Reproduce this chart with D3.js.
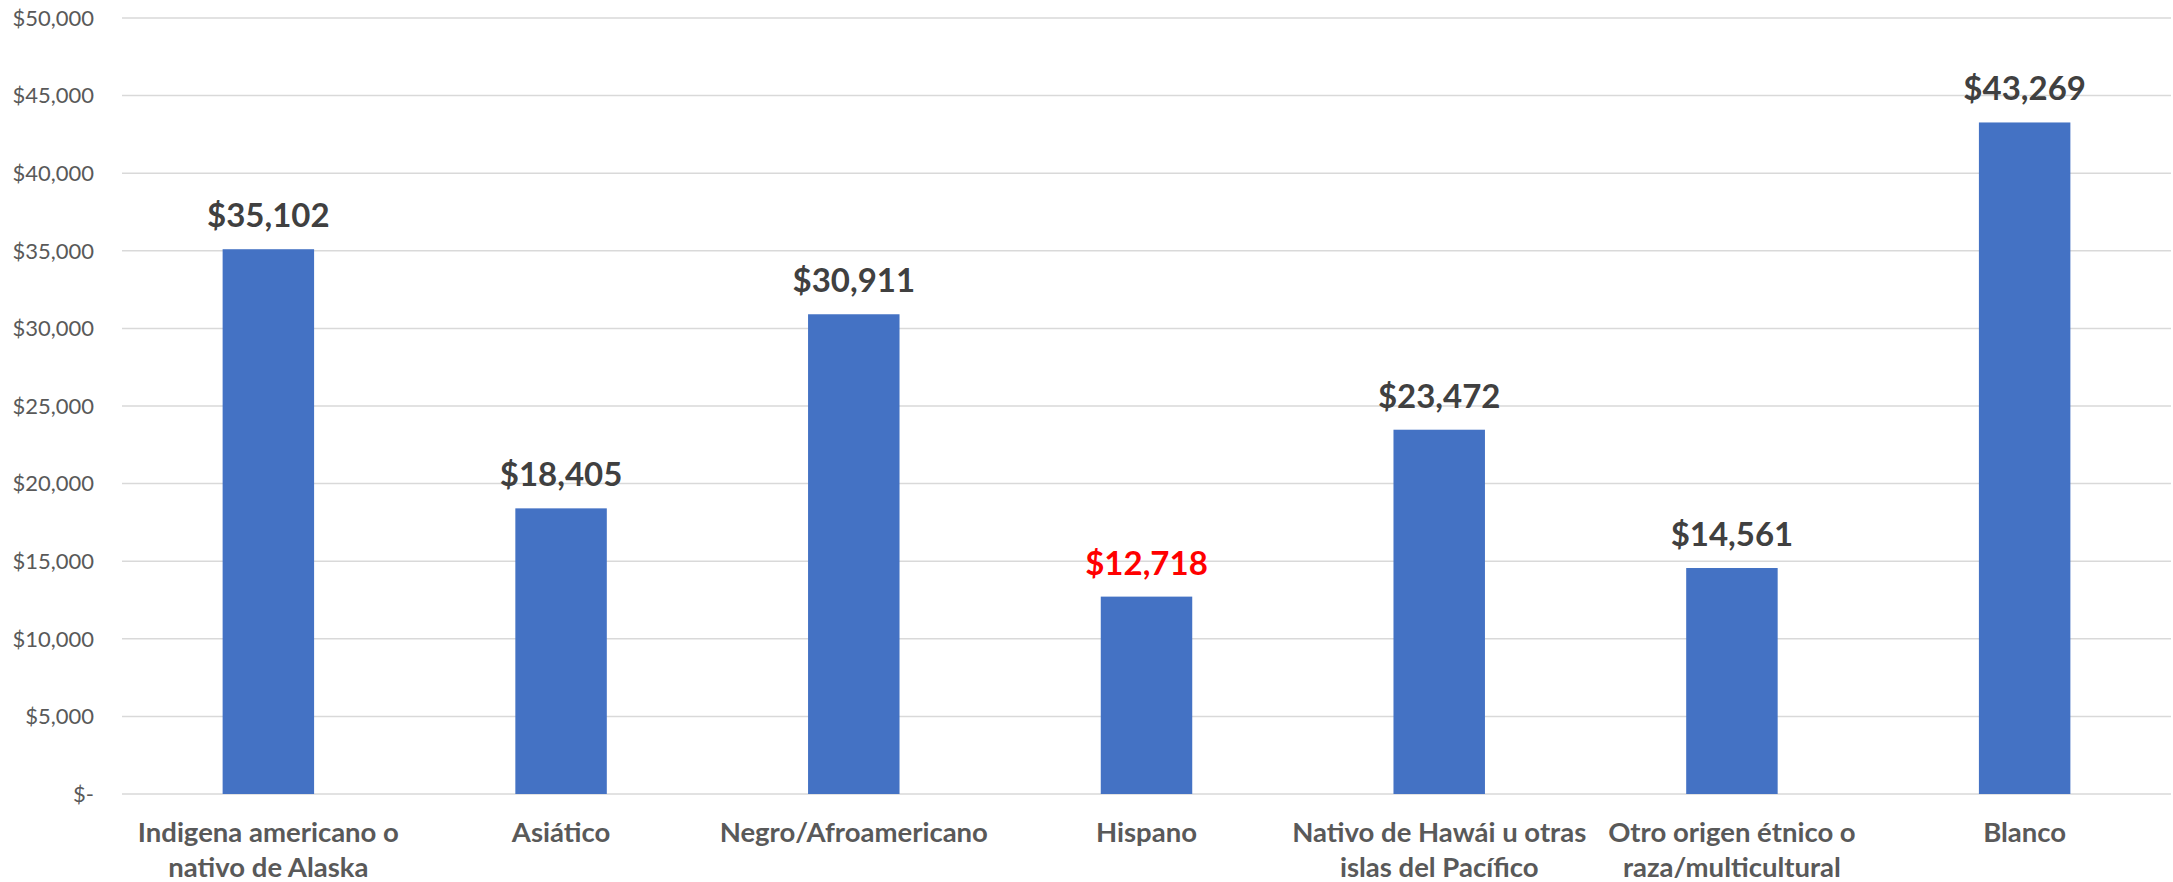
<!DOCTYPE html>
<html>
<head>
<meta charset="utf-8">
<script src="https://cdn.jsdelivr.net/npm/d3@7"></script>
<style>
  body { margin: 0; background: #fff; }
  svg text { font-family: Lato, "Open Sans", sans-serif; }
</style>
</head>
<body>
<div id="chart"></div>
<script>
// categories (two-line labels) and values
const categories = [
    ["Indigena americano o", "nativo de Alaska"],
    ["Asiático"],
    ["Negro/Afroamericano"],
    ["Hispano"],
    ["Nativo de Hawái u otras", "islas del Pacífico"],
    ["Otro origen étnico o", "raza/multicultural"],
    ["Blanco"]
];
const values = [35102, 18405, 30911, 12718, 23472, 14561, 43269];
const highlight = [false, false, false, true, false, false, false];
const yTicks = [0, 5000, 10000, 15000, 20000, 25000, 30000, 35000, 40000, 45000, 50000];

const W = 2173, H = 882;
const m = {t: 18, r: 2, b: 88, l: 122};
const w = W - m.l - m.r, h = H - m.t - m.b;

const svg = d3.select("#chart").append("svg")
    .attr("width", W).attr("height", H);
const g = svg.append("g").attr("transform", `translate(${m.l},${m.t})`);

const keys = categories.map((d, i) => i);
const x = d3.scaleBand().domain(keys).range([0, w])
    .paddingInner(0.6875).paddingOuter(0.34375);
const y = d3.scaleLinear().domain([0, 50000]).range([h, 0]);

// gridlines
g.selectAll(".grid").data(yTicks).enter().append("line")
    .attr("x1", 0).attr("x2", w)
    .attr("y1", d => y(d)).attr("y2", d => y(d))
    .attr("stroke", "#d9d9d9").attr("stroke-width", 1.5);

// y axis labels
const fmt = d3.format(",");
g.selectAll(".ylab").data(yTicks).enter().append("text")
    .attr("x", -28).attr("y", d => y(d)).attr("dy", "0.35em")
    .attr("text-anchor", "end").attr("fill", "#595959")
    .style("font-size", "22px")
    .text(d => d === 0 ? "$-" : "$" + fmt(d));

// bars
g.selectAll(".bar").data(values).enter().append("rect")
    .attr("x", (d, i) => x(i)).attr("width", x.bandwidth())
    .attr("y", d => y(d)).attr("height", d => h - y(d))
    .attr("fill", "#4472c4");

// value labels
g.selectAll(".vlab").data(values).enter().append("text")
    .attr("x", (d, i) => x(i) + x.bandwidth() / 2)
    .attr("y", d => y(d) - 22)
    .attr("text-anchor", "middle")
    .attr("fill", (d, i) => highlight[i] ? "#ff0000" : "#404040")
    .style("font-size", "33px").style("font-weight", "bold")
    .text(d => "$" + fmt(d));

// x labels
const xl = g.selectAll(".xlab").data(categories).enter().append("text")
    .attr("text-anchor", "middle").attr("fill", "#595959")
    .style("font-size", "27.5px").style("font-weight", "bold");
xl.selectAll("tspan").data((d, i) => d.map(s => ({s, i}))).enter().append("tspan")
    .attr("x", d => x(d.i) + x.bandwidth() / 2)
    .attr("y", (d, j) => h + 48 + j * 35)
    .text(d => d.s);
</script>
</body>
</html>
